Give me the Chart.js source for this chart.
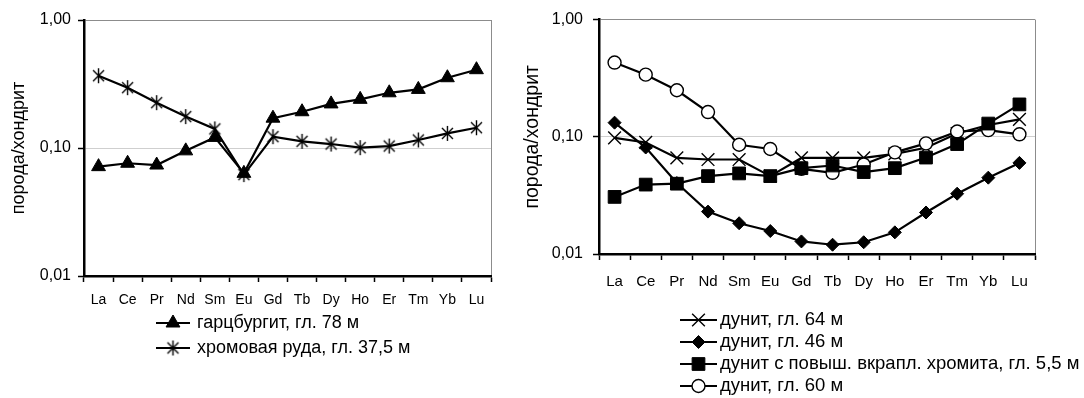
<!DOCTYPE html>
<html><head><meta charset="utf-8">
<script src="https://cdn.jsdelivr.net/npm/chart.js@4.4.1/dist/chart.umd.min.js"></script>
<style>
html,body{margin:0;padding:0;background:#fff;}
#wrap{position:relative;width:1084px;height:398px;overflow:hidden;background:#fff;}
#c1{position:absolute;left:0;top:0;}
#c2{position:absolute;left:515px;top:0;}
</style></head><body>
<div id="wrap"><canvas id="c1" width="540" height="398"></canvas><canvas id="c2" width="569" height="398"></canvas></div>
<script>
// ---- data ----
const elements = ['La','Ce','Pr','Nd','Sm','Eu','Gd','Tb','Dy','Ho','Er','Tm','Yb','Lu'];
const yTickValues = [0.01, 0.1, 1];
const yTickLabels = ['0,01', '0,10', '1,00'];
const yAxisTitle = 'порода/хондрит';

const harzburgite78 = [0.0715, 0.076, 0.0736, 0.095, 0.121, 0.0634, 0.171, 0.192, 0.221, 0.240, 0.270, 0.287, 0.354, 0.409];
const chromeOre375 = [0.367, 0.296, 0.226, 0.176, 0.141, 0.062, 0.1227, 0.1127, 0.1074, 0.1006, 0.1036, 0.1155, 0.130, 0.144];
const leftLabels = ['гарцбургит, гл. 78 м', 'хромовая руда, гл. 37,5 м'];

const dunite64 = [0.098, 0.0895, 0.066, 0.064, 0.064, 0.0462, 0.066, 0.066, 0.066, 0.0714, 0.0807, 0.1067, 0.126, 0.141];
const dunite46 = [0.132, 0.081, 0.0403, 0.023, 0.0183, 0.0157, 0.0128, 0.012, 0.0126, 0.0153, 0.0226, 0.0327, 0.0448, 0.0599];
const duniteChromite55 = [0.0307, 0.0391, 0.0398, 0.0462, 0.0487, 0.0462, 0.054, 0.0569, 0.050, 0.054, 0.0665, 0.0867, 0.1297, 0.189];
const dunite60 = [0.43, 0.339, 0.2495, 0.1626, 0.0855, 0.0787, 0.0533, 0.0493, 0.058, 0.0737, 0.0879, 0.111, 0.114, 0.105];
const rightLabels = ['дунит, гл. 64 м', 'дунит, гл. 46 м', 'дунит с повыш. вкрапл. хромита, гл. 5,5 м', 'дунит, гл. 60 м'];

// ---- styling ----
const FONT = '"Liberation Sans", Arial, sans-serif';

function makeAsterisk() {
  const c = document.createElement('canvas');
  c.width = 17; c.height = 17;
  const g = c.getContext('2d');
  g.strokeStyle = '#000'; g.lineWidth = 1.4;
  const m = 8.5, d = 5.5, v = 7.5;
  g.beginPath();
  g.moveTo(m - d, m - d); g.lineTo(m + d, m + d);
  g.moveTo(m + d, m - d); g.lineTo(m - d, m + d);
  g.moveTo(m, m - v); g.lineTo(m, m + v);
  g.stroke();
  return c;
}
const asterisk = makeAsterisk();

function ds(label, data, style, radius, fill, bw, order) {
  return {
    label, data, order,
    borderColor: '#000', borderWidth: 2.2,
    pointStyle: style, pointRadius: radius, pointHoverRadius: radius,
    pointBackgroundColor: fill, pointBorderColor: '#000', pointBorderWidth: bw,
    tension: 0, fill: false
  };
}

const legendPlugin = {
  id: 'customLegend',
  afterDraw(chart, args, opts) {
    const ctx = chart.ctx;
    ctx.save();
    ctx.font = opts.size + 'px ' + FONT;
    ctx.textBaseline = 'middle';
    ctx.textAlign = 'left';
    chart.data.datasets.forEach((d, i) => {
      const y = opts.rows[i];
      ctx.strokeStyle = '#000'; ctx.lineWidth = 2.2;
      ctx.beginPath(); ctx.moveTo(opts.x0, y); ctx.lineTo(opts.x0 + opts.len, y); ctx.stroke();
      const xm = opts.x0 + opts.len / 2;
      ctx.fillStyle = d.pointBackgroundColor; ctx.strokeStyle = '#000'; ctx.lineWidth = d.pointBorderWidth;
      Chart.helpers.drawPoint(ctx, {pointStyle: d.pointStyle, radius: d.pointRadius, borderWidth: d.pointBorderWidth, rotation: 0}, xm, y);
      ctx.fillStyle = '#000';
      ctx.fillText(d.label, opts.x0 + opts.len + opts.gap, y);
    });
    ctx.restore();
  }
};

function makeOptions(cfg) {
  return {
    responsive: false, animation: false, devicePixelRatio: 1,
    layout: { padding: { top: cfg.top, left: 0, right: cfg.right, bottom: 0 } },
    plugins: {
      legend: { display: false }, tooltip: { enabled: false },
      customLegend: cfg.legend
    },
    scales: {
      x: {
        type: 'category', labels: elements, offset: true,
        grid: {
          offset: true, drawOnChartArea: true, lineWidth: 1,
          color: c => (c.type === 'scale' ? '#8c8c8c' : 'rgba(0,0,0,0)'),
          tickColor: '#000', tickLength: 6, tickWidth: 1.5
        },
        border: { color: '#000', width: 2.5 },
        ticks: { color: '#000', font: { family: FONT, size: cfg.xFont }, padding: cfg.xPad, maxRotation: 0, autoSkip: false },
        afterFit: s => { s.height = cfg.xHeight; }
      },
      y: {
        type: 'logarithmic', min: 0.01, max: 1,
        afterBuildTicks: s => { s.ticks = yTickValues.map(v => ({ value: v })); },
        ticks: {
          color: '#000', font: { family: FONT, size: 16 }, padding: cfg.yPad,
          callback: v => yTickLabels[yTickValues.findIndex(t => Math.abs(t - v) < 1e-9)]
        },
        grid: {
          lineWidth: 1,
          color: c => {
            const v = c.tick ? c.tick.value : null;
            if (v !== null && Math.abs(v - 0.1) < 1e-9) return '#cfcfcf';
            if (v !== null && Math.abs(v - 1) < 1e-9) return '#8c8c8c';
            return 'rgba(0,0,0,0)';
          },
          tickColor: '#000', tickLength: 6, tickWidth: 1.5
        },
        border: { color: '#000', width: 2.5 },
        title: { display: true, text: yAxisTitle, color: '#000', font: { family: FONT, size: cfg.titleFont }, padding: { top: cfg.titlePad, bottom: 0 } },
        afterFit: s => { s.width = 84; }
      }
    }
  };
}

new Chart(document.getElementById('c1'), {
  type: 'line',
  data: {
    labels: elements,
    datasets: [
      ds(leftLabels[0], harzburgite78, 'triangle', 8, '#000', 1, 1),
      ds(leftLabels[1], chromeOre375, asterisk, 8, '#000', 1.4, 0)
    ]
  },
  options: makeOptions({
    top: 20, right: 49, xHeight: 122, xFont: 14, xPad: 10, yPad: 7, titleFont: 18, titlePad: 8,
    legend: { x0: 156, len: 34, gap: 7, size: 18, rows: [323, 348] }
  }),
  plugins: [legendPlugin]
});

new Chart(document.getElementById('c2'), {
  type: 'line',
  data: {
    labels: elements,
    datasets: [
      ds(rightLabels[0], dunite64, 'crossRot', 9, '#000', 1.4, 2),
      ds(rightLabels[1], dunite46, 'rectRot', 6.5, '#000', 1, 3),
      ds(rightLabels[2], duniteChromite55, 'rect', 9, '#000', 1, 0),
      ds(rightLabels[3], dunite60, 'circle', 6.5, '#fff', 1.4, 1)
    ]
  },
  options: makeOptions({
    top: 16, right: 49, xHeight: 144, xFont: 15, xPad: 13, yPad: 10, titleFont: 19.5, titlePad: 6,
    legend: { x0: 165, len: 37, gap: 3, size: 18.5, rows: [320, 342, 364, 386] }
  }),
  plugins: [legendPlugin]
});
</script>
</body></html>
